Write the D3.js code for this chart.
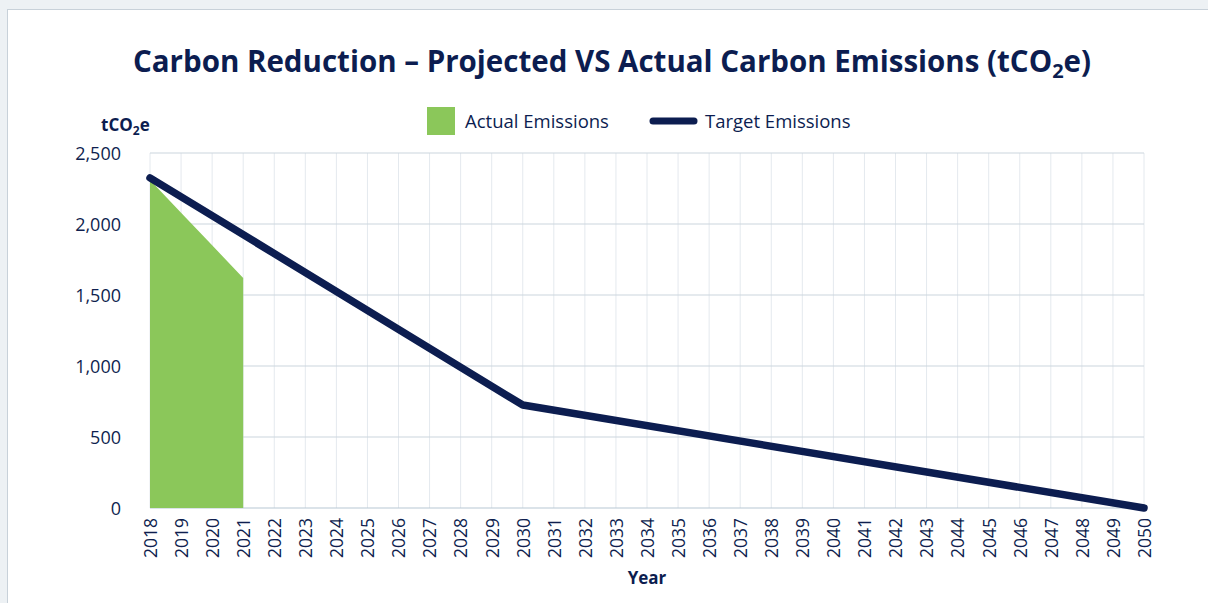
<!DOCTYPE html>
<html>
<head>
<meta charset="utf-8">
<script src="https://cdn.jsdelivr.net/npm/d3@7"></script>
<style>
  html, body { margin: 0; padding: 0; background: #edf1f4; }
  svg { display: block; font-family: "Open Sans", Lato, sans-serif; }
  .tick text { fill: #0f1f4f; }
</style>
</head>
<body>
<div id="chart"></div>
<script>
// years on the x axis
const years = d3.range(2018, 2051);

// actual emissions (tCO2e), 2018-2021
const actualYears = [2018, 2019, 2020, 2021];
const actualValues = [2310, 2080, 1850, 1620];

// target trajectory breakpoints
const targetYears = [2018, 2030, 2050];
const targetValues = [2325, 725, 0];

const yTicks = [0, 500, 1000, 1500, 2000, 2500];

const W = 1208, H = 603;
const NAVY = "#0c1d50";
const GREEN = "#8bc75a";

const svg = d3.select("#chart").append("svg")
  .attr("width", W).attr("height", H);

// page background + white card
svg.append("rect").attr("width", W).attr("height", H).attr("fill", "#edf1f4");
svg.append("rect")
  .attr("x", 7.5).attr("y", 9.5).attr("width", W).attr("height", H)
  .attr("fill", "#fff").attr("stroke", "#c8d1d9");

const x = d3.scaleLinear().domain([2018, 2050]).range([150, 1144]);
const y = d3.scaleLinear().domain([0, 2500]).range([508, 153]);

// vertical gridlines, one per year
svg.append("g").selectAll("line").data(years).join("line")
  .attr("x1", d => x(d)).attr("x2", d => x(d))
  .attr("y1", y(2500)).attr("y2", y(0))
  .attr("stroke", "#e4e9ee").attr("stroke-width", 1);

// horizontal gridlines
svg.append("g").selectAll("line").data(yTicks).join("line")
  .attr("x1", x(2018)).attr("x2", x(2050))
  .attr("y1", d => y(d)).attr("y2", d => y(d))
  .attr("stroke", d => d === 0 ? "#b7c7d3" : "#cbd5de").attr("stroke-width", 1.2);

// y axis labels
const yAxis = svg.append("g")
  .attr("transform", `translate(${x(2018) - 26},0)`)
  .call(d3.axisLeft(y).tickValues(yTicks).tickSize(0).tickFormat(d3.format(",")));
yAxis.select(".domain").remove();
yAxis.selectAll("text").attr("font-size", 18).attr("font-family", "Open Sans").attr("dy", "0.35em");

// x axis labels, rotated
const xAxis = svg.append("g")
  .attr("transform", `translate(0,${y(0)})`)
  .call(d3.axisBottom(x).tickValues(years).tickSize(0).tickFormat(d3.format("d")));
xAxis.select(".domain").remove();
xAxis.selectAll("text")
  .attr("font-size", 17.5)
  .attr("font-family", "Open Sans")
  .attr("transform", "rotate(-90)")
  .attr("text-anchor", "end")
  .attr("x", -10).attr("y", 0).attr("dy", "0.36em");

// actual emissions area
const actual = actualYears.map((d, i) => ({ year: d, value: actualValues[i] }));
svg.append("path")
  .datum(actual)
  .attr("fill", GREEN)
  .attr("d", d3.area().x(d => x(d.year)).y0(y(0)).y1(d => y(d.value)));

// target line
const target = targetYears.map((d, i) => ({ year: d, value: targetValues[i] }));
svg.append("path")
  .datum(target)
  .attr("fill", "none")
  .attr("stroke", NAVY)
  .attr("stroke-width", 7.5)
  .attr("stroke-linecap", "round")
  .attr("stroke-linejoin", "round")
  .attr("d", d3.line().x(d => x(d.year)).y(d => y(d.value)));

// title
const title = svg.append("text")
  .attr("x", 612).attr("y", 72)
  .attr("text-anchor", "middle")
  .attr("font-size", 29.5).attr("font-weight", 700)
  .attr("fill", NAVY);
title.append("tspan").text("Carbon Reduction – Projected VS Actual Carbon Emissions (tCO");
title.append("tspan").attr("font-size", 20).attr("dy", 6).text("2");
title.append("tspan").attr("dy", -6).text("e)");

// y axis title
const yt = svg.append("text")
  .attr("x", 101).attr("y", 131)
  .attr("font-size", 17).attr("font-weight", 700).attr("fill", NAVY);
yt.append("tspan").text("tCO");
yt.append("tspan").attr("font-size", 12).attr("dy", 4).text("2");
yt.append("tspan").attr("dy", -4).text("e");

// x axis title
svg.append("text")
  .attr("x", 647).attr("y", 584)
  .attr("text-anchor", "middle")
  .attr("font-size", 17).attr("font-weight", 700).attr("fill", NAVY)
  .text("Year");

// legend
const legend = svg.append("g");
legend.append("rect")
  .attr("x", 427).attr("y", 107).attr("width", 28).attr("height", 28)
  .attr("fill", GREEN);
legend.append("text")
  .attr("x", 465).attr("y", 128)
  .attr("font-size", 18.5).attr("fill", NAVY)
  .text("Actual Emissions");
legend.append("line")
  .attr("x1", 653).attr("x2", 694).attr("y1", 121).attr("y2", 121)
  .attr("stroke", NAVY).attr("stroke-width", 7).attr("stroke-linecap", "round");
legend.append("text")
  .attr("x", 705).attr("y", 128)
  .attr("font-size", 18.5).attr("fill", NAVY)
  .text("Target Emissions");
</script>
</body>
</html>
